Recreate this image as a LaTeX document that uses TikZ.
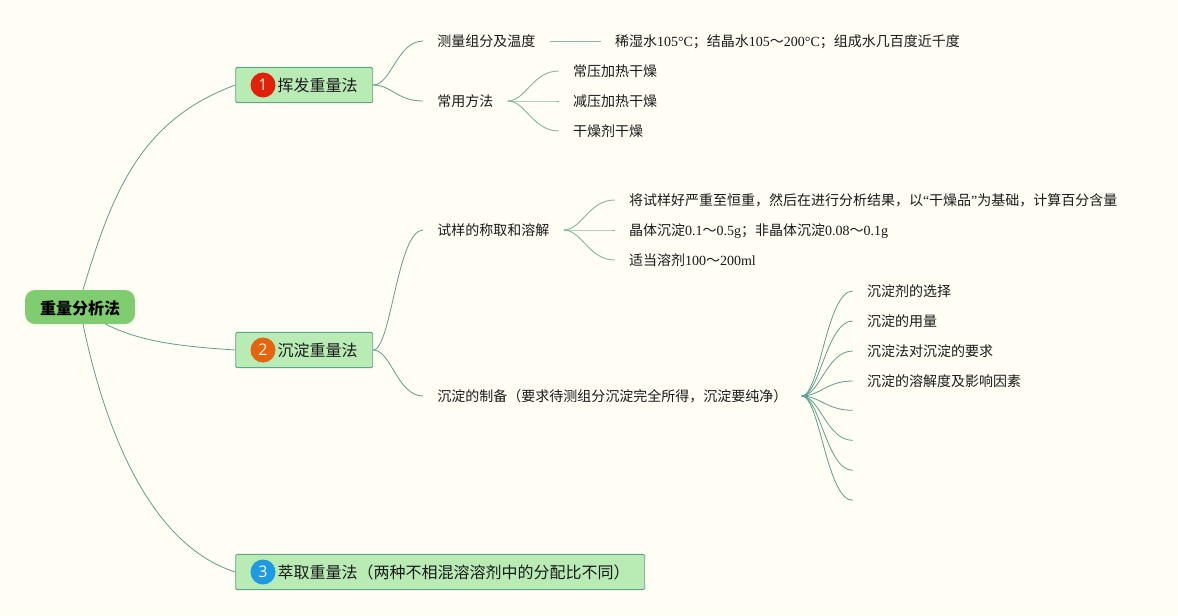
\documentclass[tikz,border=0pt]{standalone}
\usepackage{fontspec}
\usepackage{xcolor}
\usetikzlibrary{positioning}
\setmainfont{Noto Sans CJK SC}
\newfontfamily\latinfont{Liberation Serif}
\newfontfamily\badgefont{Open Sans}
\newcommand{\lat}[1]{{\latinfont #1}}
\newcommand{\iconspace}{\hspace*{20.25pt}}
\definecolor{pageCream}{HTML}{FFFDF4}
\definecolor{ink}{HTML}{1A1A1A}
\definecolor{rootGreen}{HTML}{80CC70}
\definecolor{branchFill}{HTML}{B9EBB5}
\definecolor{branchLine}{HTML}{62A38E}
\definecolor{edgeTeal}{HTML}{5F9F8E}
\definecolor{edgeSage}{HTML}{86B8A3}
\definecolor{badgeRed}{HTML}{E0220B}
\definecolor{badgeOrange}{HTML}{E5650F}
\definecolor{badgeBlue}{HTML}{1E9BE0}
\definecolor{badgeDigit}{HTML}{FFF3DC}
\tikzset{
  root card/.style={
    fill=rootGreen,
    rounded corners=7.5pt,
    font=\fontsize{12}{14}\selectfont\bfseries,
    minimum width=82.5pt,
    minimum height=25.5pt,
    inner sep=0pt,
    text height=13.5pt,
    text depth=2pt,
    text=black
  },
  branch card/.style={
    draw=branchLine,
    fill=branchFill,
    rounded corners=1pt,
    line width=0.7pt,
    font=\fontsize{12}{14}\selectfont,
    inner xsep=11.25pt,
    inner ysep=0pt,
    minimum height=26.5pt,
    text height=12pt,
    text depth=2.5pt,
    text=ink
  },
  topic text/.style={
    font=\fontsize{10.5}{12}\selectfont,
    inner xsep=10.5pt,
    inner ysep=2pt,
    text height=10.5pt,
    text depth=2pt,
    text=ink
  },
  badge/.style={
    circle,
    minimum size=18.75pt,
    inner sep=0pt,
    font=\badgefont\fontsize{12}{14}\selectfont,
    text=badgeDigit
  },
  main edge/.style={
    draw=edgeTeal,
    line width=0.6pt
  },
  fork edge/.style={
    main edge,
    to path={.. controls +(18,0) and +(-26,0) .. (\tikztotarget)}
  },
  soft edge/.style={
    fork edge,
    draw=edgeSage,
    line width=0.7pt
  }
}
\begin{document}
\begin{tikzpicture}[x=0.75pt,y=-0.75pt]
  \path[fill=pageCream,use as bounding box] (0,0) rectangle (1178,615);

  \node[root card] (gravimetry) at (80,307) {重量分析法};

  \node[branch card,right=75pt of gravimetry,yshift=166.5pt] (volatile) {\iconspace 挥发重量法};
  \node[branch card,right=75pt of gravimetry,yshift=-32.25pt] (precipitate) {\iconspace 沉淀重量法};
  \node[branch card,right=75pt of gravimetry,yshift=-198.75pt] (extraction) {\iconspace 萃取重量法（两种不相混溶溶剂中的分配比不同）};
  \node[badge,fill=badgeRed,right=11.25pt of volatile.west] (badge-one) {1};
  \node[badge,fill=badgeOrange,right=11.25pt of precipitate.west] (badge-two) {2};
  \node[badge,fill=badgeBlue,right=11.25pt of extraction.west] (badge-three) {3};

  \node[topic text,right=37.5pt of volatile,yshift=33pt] (measure) {测量组分及温度};
  \node[topic text,right=37.5pt of volatile,yshift=-12pt] (methods) {常用方法};
  \node[topic text,right=38.25pt of measure] (temps) {稀湿水\lat{105°C}；结晶水\lat{105}～\lat{200°C}；组成水几百度近千度};
  \node[topic text,right=38.25pt of methods,yshift=22.5pt] (normal-dry) {常压加热干燥};
  \node[topic text,right=38.25pt of methods] (vacuum-dry) {减压加热干燥};
  \node[topic text,right=38.25pt of methods,yshift=-22.5pt] (agent-dry) {干燥剂干燥};

  \node[topic text,right=37.5pt of precipitate,yshift=90pt] (weigh) {试样的称取和溶解};
  \node[topic text,right=37.5pt of precipitate,yshift=-34.5pt] (prepare) {沉淀的制备（要求待测组分沉淀完全所得，沉淀要纯净）};
  \node[topic text,right=38.25pt of weigh,yshift=22.5pt] (dry-basis) {将试样好严重至恒重，然后在进行分析结果，以\lat{“}干燥品\lat{”}为基础，计算百分含量};
  \node[topic text,right=38.25pt of weigh] (sample-mass) {晶体沉淀\lat{0.1}～\lat{0.5g}；非晶体沉淀\lat{0.08}～\lat{0.1g}};
  \node[topic text,right=38.25pt of weigh,yshift=-22.5pt] (solvent) {适当溶剂\lat{100}～\lat{200ml}};

  \node[topic text,right=38.25pt of prepare,yshift=78.75pt] (reagent) {沉淀剂的选择};
  \node[topic text,right=38.25pt of prepare,yshift=56.25pt] (amount) {沉淀的用量};
  \node[topic text,right=38.25pt of prepare,yshift=33.75pt] (demand) {沉淀法对沉淀的要求};
  \node[topic text,right=38.25pt of prepare,yshift=11.25pt] (solubility) {沉淀的溶解度及影响因素};
  \coordinate[below=22pt of solubility.west] (blank-a);
  \coordinate[below=22.5pt of blank-a] (blank-b);
  \coordinate[below=22.5pt of blank-b] (blank-c);
  \coordinate[below=22.5pt of blank-c] (blank-d);

  \draw[main edge] (gravimetry.80) .. controls +(30,-100) and +(-94,35) .. (volatile.west);
  \draw[main edge] (gravimetry.-34) .. controls +(35,17) and +(-60,-4) .. (precipitate.west);
  \draw[main edge] (gravimetry.-80) .. controls +(22,106) and +(-85,-27) .. (extraction.west);

  \draw[fork edge] (volatile.east) to (measure.west);
  \draw[fork edge] (volatile.east) to (methods.west);
  \draw[soft edge] (measure) -- (temps);
  \draw[soft edge] (methods.east) to (normal-dry.west);
  \draw[soft edge] (methods.east) to (vacuum-dry.west);
  \draw[soft edge] (methods.east) to (agent-dry.west);

  \draw[fork edge] (precipitate.east) to (weigh.west);
  \draw[fork edge] (precipitate.east) to (prepare.west);
  \draw[soft edge] (weigh.east) to (dry-basis.west);
  \draw[soft edge] (weigh.east) to (sample-mass.west);
  \draw[soft edge] (weigh.east) to (solvent.west);

  \draw[fork edge] (prepare.east) to (reagent.west);
  \draw[fork edge] (prepare.east) to (amount.west);
  \draw[fork edge] (prepare.east) to (demand.west);
  \draw[fork edge] (prepare.east) to (solubility.west);
  \draw[fork edge] (prepare.east) to (blank-a);
  \draw[fork edge] (prepare.east) to (blank-b);
  \draw[fork edge] (prepare.east) to (blank-c);
  \draw[fork edge] (prepare.east) to (blank-d);
\end{tikzpicture}
\end{document}
